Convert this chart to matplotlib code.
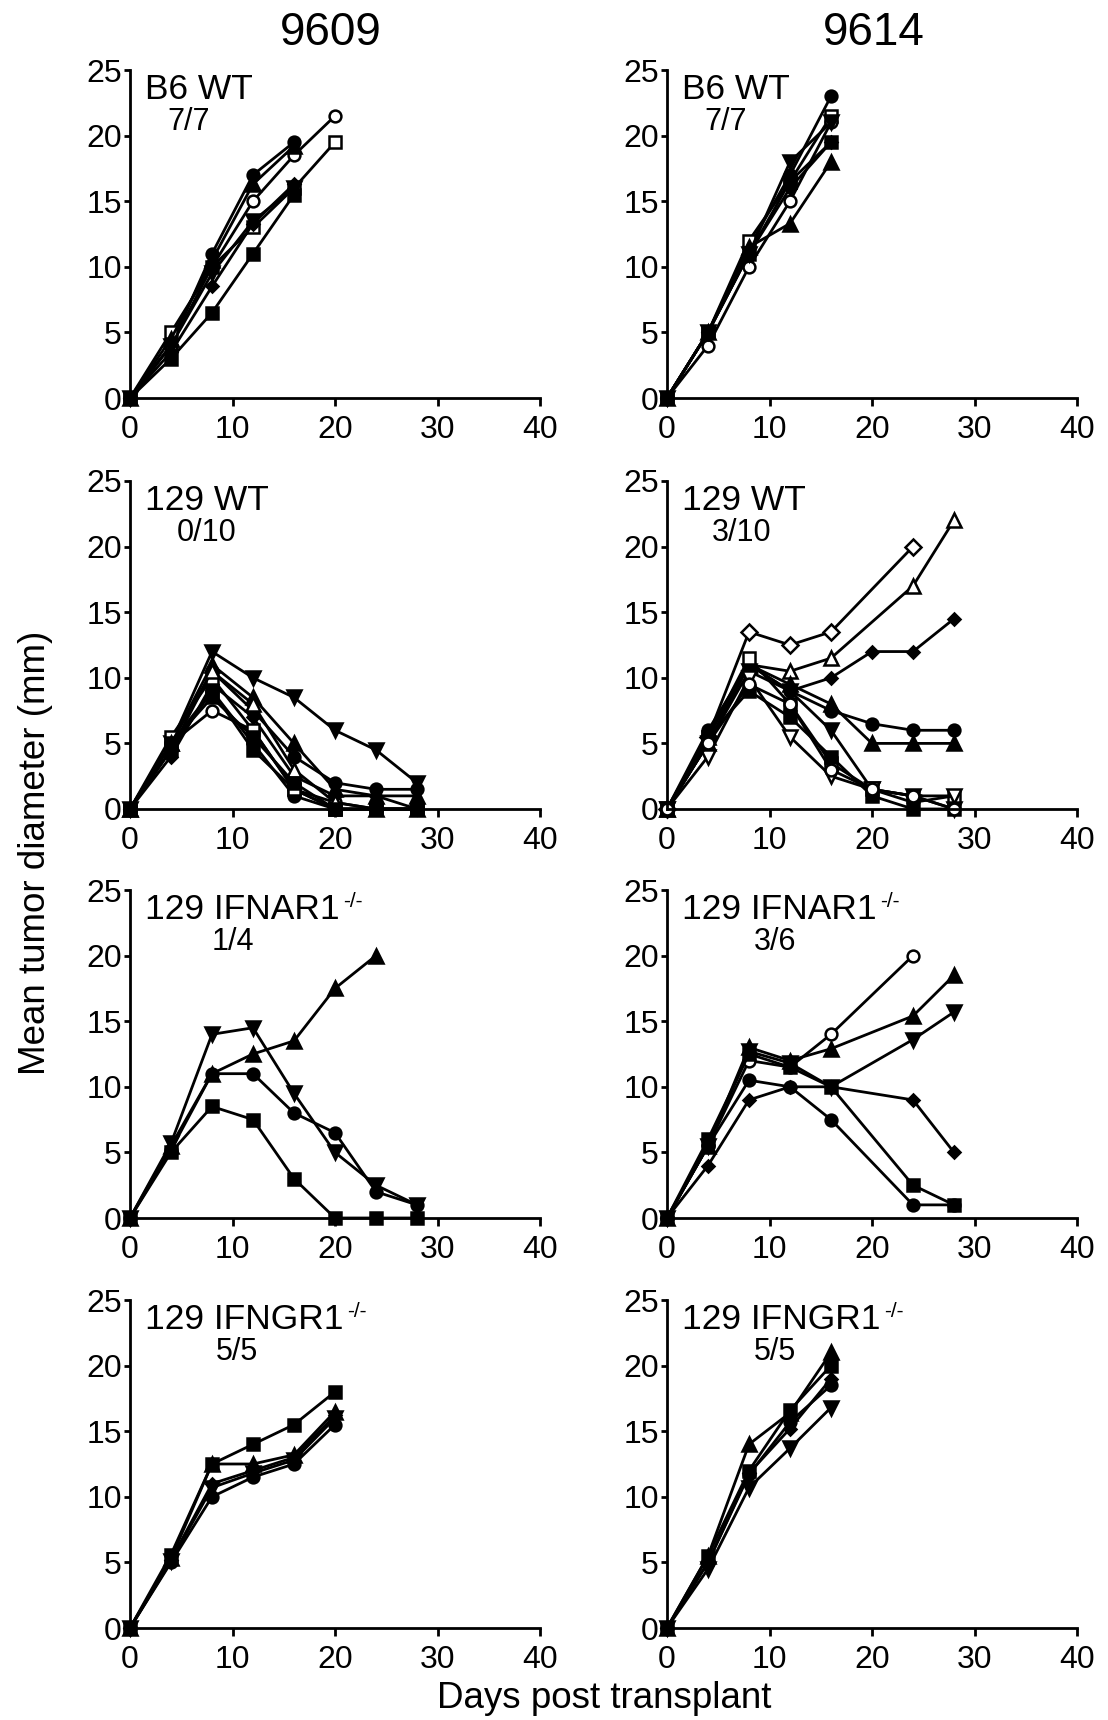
import matplotlib
matplotlib.use("Agg")
import matplotlib.pyplot as plt

plt.rcParams['font.family'] = ['Liberation Sans', 'DejaVu Sans']

# days post transplant
days = [0, 4, 8, 12, 16, 20, 24, 28]

# --- 9609 ---
b6_9609 = [
    [0, 4, 11, 17, 19.5],
    [0, 4, 10, 15, 18.5, 21.5],
    [0, 5, 10, 13, 16, 19.5],
    [0, 3, 6.5, 11, 15.5],
    [0, 4.5, 10.5, 16.3, 19.2],
    [0, 3.5, 8.5, 13.3, 16.3],
    [0, 4, 9.5, 13.5, 16],
]
b6_9609_mk = ['o', 'o_', 's_', 's', '^', 'D', 'v']

wt_9609 = [
    [0, 5, 12, 10, 8.5, 6, 4.5, 2],
    [0, 4.5, 10.5, 7.5, 4, 2, 1.5, 1.5],
    [0, 5, 11, 8.5, 5, 1.5, 1, 1],
    [0, 5, 7.5, 6, 1.5, 0.5, 0, 0],
    [0, 4.5, 9, 4.5, 1.5, 0, 0, 0],
    [0, 4, 9.5, 7, 2.5, 1, 1, 0],
    [0, 5, 9, 5, 1, 0, 0, 0],
    [0, 5.5, 10, 6, 1.5, 0, 0, 0],
    [0, 5, 10.5, 8, 3, 0.5, 0, 0],
    [0, 5, 8.5, 5.5, 2, 0, 0, 0],
]
wt_9609_mk = ['v', 'o', '^', 'o_', 's', 'D', 'o', 's_', '^_', 's']

ifnar_9609 = [
    [0, 5.5, 11, 12.5, 13.5, 17.5, 20],
    [0, 5.7, 14, 14.5, 9.5, 5, 2.5, 1],
    [0, 5.2, 11, 11, 8, 6.5, 2, 1],
    [0, 5, 8.5, 7.5, 3, 0, 0, 0],
]
ifnar_9609_mk = ['^', 'v', 'o', 's']

ifngr_9609 = [
    [0, 5.6, 12.5, 14, 15.5, 18],
    [0, 5.3, 12.5, 12.5, 13.2, 16.5],
    [0, 5.2, 11, 12, 13, 16.2],
    [0, 5, 10, 11.5, 12.5, 15.5],
    [0, 5.1, 10.7, 11.8, 12.8, 16],
]
ifngr_9609_mk = ['s', '^', 'D', 'o', 'v']

# --- 9614 ---
b6_9614 = [
    [0, 5, 11.5, 17, 23],
    [0, 5, 12, 16.5, 21.5],
    [0, 4, 10, 15, 21],
    [0, 5, 11, 16.5, 19.5],
    [0, 5, 11.5, 13.3, 18],
    [0, 5, 11, 18, 21],
    [0, 5, 11, 16, 19.5],
]
b6_9614_mk = ['o', 's_', 'o_', 's', '^', 'v', 'D']

wt_9614 = [
    [0, 5.5, 13.5, 12.5, 13.5, None, 20],
    [0, 5, 11, 10.5, 11.5, None, 17, 22],
    [0, 5, 11, 9, 10, 12, 12, 14.5],
    [0, 6, 11, 9, 7.5, 6.5, 6, 6],
    [0, 5.5, 11, 9.5, 8, 5, 5, 5],
    [0, 5, 10.5, 9, 6, 1.5, 1, 0],
    [0, 5.5, 11.5, 8, 3.5, 1.5, 1, 1],
    [0, 4, 10, 5.5, 2.5, 1.5, 0.5, 1],
    [0, 5.5, 9, 7, 4, 1, 0, 0],
    [0, 5, 9.5, 8, 3, 1.5, 1, 0],
]
wt_9614_mk = ['D_', '^_', 'D', 'o', '^', 'v', 's_', 'v_', 's', 'o_']

ifnar_9614 = [
    [0, 5.5, 12, 11.5, 14, None, 20],
    [0, 5.5, 13, 12, 12.9, None, 15.4, 18.5],
    [0, 5.5, 12.7, 11.8, 10, None, 13.6, 15.7],
    [0, 4, 9, 10, 10, None, 9, 5],
    [0, 5.5, 10.5, 10, 7.5, None, 1, 1],
    [0, 6, 12.5, 11.5, 10, None, 2.5, 1],
]
ifnar_9614_mk = ['o_', '^', 'v', 'D', 'o', 's']

ifngr_9614 = [
    [0, 5.5, 14, 16.4, 21],
    [0, 5.5, 12, 16.6, 20],
    [0, 5, 11.8, 15.2, 19],
    [0, 5, 11.7, 15.7, 18.5],
    [0, 4.5, 10.7, 13.7, 16.8],
]
ifngr_9614_mk = ['^', 's', 'D', 'o', 'v']

panels = [
    (b6_9609, b6_9609_mk, 'B6 WT', '', '7/7', 5.7),
    (b6_9614, b6_9614_mk, 'B6 WT', '', '7/7', 5.7),
    (wt_9609, wt_9609_mk, '129 WT', '', '0/10', 7.5),
    (wt_9614, wt_9614_mk, '129 WT', '', '3/10', 7.3),
    (ifnar_9609, ifnar_9609_mk, '129 IFNAR1', '-/-', '1/4', 10.0),
    (ifnar_9614, ifnar_9614_mk, '129 IFNAR1', '-/-', '3/6', 10.5),
    (ifngr_9609, ifngr_9609_mk, '129 IFNGR1', '-/-', '5/5', 10.4),
    (ifngr_9614, ifngr_9614_mk, '129 IFNGR1', '-/-', '5/5', 10.5),
]

msize = {'o': 8.5, 's': 8, '^': 9.5, 'v': 9.5, 'D': 6.5}

W, H = 1108, 1720
fig = plt.figure(figsize=(W / 100, H / 100), dpi=100)

col_x = [130, 667]
row_top = [70, 481, 890, 1300]
ax_w, ax_h = 410, 328

labels = []
for i, (series, mks, label, sup, frac, fx) in enumerate(panels):
    r, c = i // 2, i % 2
    ax = fig.add_axes([col_x[c] / W, (H - row_top[r] - ax_h) / H, ax_w / W, ax_h / H])

    for vals, mk in zip(series, mks):
        xs = [d for d, v in zip(days, vals) if v is not None]
        ys = [v for v in vals if v is not None]
        m = mk.rstrip('_')
        is_open = mk.endswith('_')
        ms = msize[m]
        if m == 'D' and is_open:
            ms = 8
        ax.plot(xs, ys, color='black', lw=2.0, marker=m, ms=ms,
                mfc='white' if is_open else 'black', mec='black', mew=1.8,
                clip_on=False)

    ax.set_xlim(0, 40)
    ax.set_ylim(0, 25)
    ax.set_xticks([0, 10, 20, 30, 40])
    ax.set_yticks([0, 5, 10, 15, 20, 25])
    for s in ['top', 'right']:
        ax.spines[s].set_visible(False)
    for s in ['left', 'bottom']:
        ax.spines[s].set_linewidth(2)
    ax.tick_params(axis='both', labelsize=23, width=2, direction='out')
    ax.tick_params(axis='x', length=6, pad=6)
    ax.tick_params(axis='y', length=4, pad=2)

    t = ax.text(1.5, 22.8, label, fontsize=25.5, ha='left', va='baseline')
    labels.append((ax, t, sup))
    ax.text(fx, 20.4, frac, fontsize=22, ha='center', va='baseline')

fig.text(331 / W, 1 - 45 / H, '9609', fontsize=33, ha='center', va='baseline')
fig.text(874 / W, 1 - 45 / H, '9614', fontsize=33, ha='center', va='baseline')
fig.text(36 / W, 0.504, 'Mean tumor diameter (mm)', fontsize=26.5, rotation=90,
         ha='center', va='center')
fig.text(604 / W, 1 - 1708 / H, 'Days post transplant', fontsize=26.5,
         ha='center', va='baseline')

# superscripts placed after the label text
fig.canvas.draw()
renderer = fig.canvas.get_renderer()
for ax, t, sup in labels:
    if not sup:
        continue
    bb = t.get_window_extent(renderer)
    fig.text((bb.x1 + 3) / W, (bb.y1 - 14) / H, sup, fontsize=15,
             ha='left', va='baseline')

fig.savefig('out.png', dpi=100)
